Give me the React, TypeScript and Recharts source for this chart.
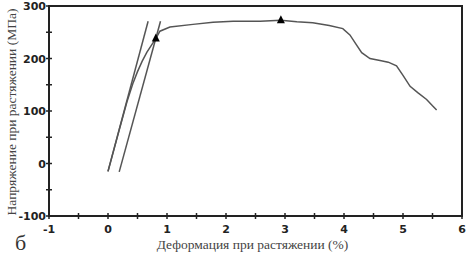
import React from "react";
import { ComposedChart, Line, Scatter, XAxis, YAxis, ReferenceArea } from "recharts";

const curveStrain = [0, 0.2, 0.32, 0.42, 0.5, 0.58, 0.66, 0.74, 0.81, 0.88, 1.05, 1.44, 1.78, 2.12, 2.58, 2.93, 3.2, 3.47, 3.75, 3.98, 4.1, 4.2, 4.3, 4.44, 4.61, 4.75, 4.89, 5.0, 5.12, 5.25, 5.4, 5.5, 5.57];
const curveStress = [-15, 68, 117, 152, 175, 195, 212, 226, 238, 252, 260, 265, 269, 271, 271, 273, 270, 268, 263, 257, 245, 228, 211, 200, 196, 193, 186, 168, 147, 135, 122, 110, 102];
const line1Strain = [0, 0.68];
const line1Stress = [-15, 271];
const line2Strain = [0.19, 0.89];
const line2Stress = [-16, 271];
const markStrain = [0.81, 2.93];
const markStress = [238, 273];
const xTicks = [-1, -0.5, 0, 0.5, 1, 1.5, 2, 2.5, 3, 3.5, 4, 4.5, 5, 5.5, 6];
const yTicks = [-100, -50, 0, 50, 100, 150, 200, 250, 300];
const xDomain = [-1, 6];
const yDomain = [-100, 300];

const toPts = (xs: number[], ys: number[]) => xs.map((x, i) => ({ x, y: ys[i] }));
const curveData = toPts(curveStrain, curveStress);
const line1Data = toPts(line1Strain, line1Stress);
const line2Data = toPts(line2Strain, line2Stress);
const markData = toPts(markStrain, markStress);
const rightFrame = toPts([xDomain[1], xDomain[1]], yDomain);

const tickFont = "DejaVu Sans, Verdana, sans-serif";
const serif = "Liberation Serif, DejaVu Serif, serif";

const XTick = (props: any) => {
  const { x, y, payload } = props;
  const v = payload.value;
  const major = Number.isInteger(v);
  return (
    <g>
      <line x1={x} x2={x} y1={y - 3} y2={y + 3} stroke="#222" strokeWidth={1.5} />
      {major && (
        <text x={x} y={y + 17} textAnchor="middle" fontFamily={tickFont} fontWeight="bold" fontSize={11} fill="#222">
          {v}
        </text>
      )}
    </g>
  );
};

const YTick = (props: any) => {
  const { x, y, payload } = props;
  const v = payload.value;
  const major = v % 100 === 0;
  return (
    <g>
      <line x1={x - 3} x2={x + 3} y1={y} y2={y} stroke="#222" strokeWidth={1.5} />
      {major && (
        <text x={x - 3} y={y + 4} textAnchor="end" fontFamily={tickFont} fontWeight="bold" fontSize={11} fill="#222">
          {v}
        </text>
      )}
    </g>
  );
};

const Tri = (props: any) => {
  const { cx, cy } = props;
  return <polygon points={`${cx},${cy - 5} ${cx - 4},${cy + 3} ${cx + 4},${cy + 3}`} fill="#000" />;
};

export default function App() {
  return (
    <div style={{ position: "absolute", left: 0, top: 0, width: 474, height: 260, background: "#fff" }}>
      <ComposedChart width={474} height={260} margin={{ top: 6, right: 12, bottom: 14, left: 0 }}>
        <XAxis
          xAxisId="b"
          dataKey="x"
          type="number"
          domain={xDomain}
          ticks={xTicks}
          interval={0}
          tick={<XTick />}
          tickLine={false}
          tickSize={0}
          tickMargin={0}
          axisLine={{ stroke: "#222", strokeWidth: 2 }}
          height={30}
          label={{
            value: "Деформация при растяжении (%)",
            position: "insideBottom",
            offset: -3,
            dx: -3,
            style: { fontFamily: serif, fontSize: 13.5, fill: "#444" },
          }}
        />
        <YAxis
          yAxisId="l"
          dataKey="y"
          type="number"
          domain={yDomain}
          ticks={yTicks}
          interval={0}
          tick={<YTick />}
          tickLine={false}
          tickSize={0}
          tickMargin={0}
          axisLine={{ stroke: "#222", strokeWidth: 2 }}
          width={49}
        />
        <ReferenceArea
          xAxisId="b"
          yAxisId="l"
          x1={xDomain[0]}
          x2={xDomain[1]}
          y1={yDomain[0]}
          y2={yDomain[1]}
          fill="none"
          fillOpacity={0}
          stroke="#222"
          strokeWidth={2}
          strokeOpacity={1}
          ifOverflow="visible"
        />
        <Line xAxisId="b" yAxisId="l" data={rightFrame} dataKey="y" type="linear" stroke="#222" strokeWidth={2} dot={false} isAnimationActive={false} />
        <Line xAxisId="b" yAxisId="l" data={line1Data} dataKey="y" type="linear" stroke="#555" strokeWidth={1.5} dot={false} isAnimationActive={false} />
        <Line xAxisId="b" yAxisId="l" data={line2Data} dataKey="y" type="linear" stroke="#555" strokeWidth={1.5} dot={false} isAnimationActive={false} />
        <Line xAxisId="b" yAxisId="l" data={curveData} dataKey="y" type="linear" stroke="#555" strokeWidth={1.5} dot={false} isAnimationActive={false} />
        <Scatter xAxisId="b" yAxisId="l" data={markData} dataKey="y" shape={<Tri />} isAnimationActive={false} />
      </ComposedChart>
      <svg width={24} height={260} style={{ position: "absolute", left: 0, top: 0 }}>
        <text
          x={0}
          y={0}
          transform="translate(16,112) rotate(-90)"
          textAnchor="middle"
          fontFamily={serif}
          fontSize={13.5}
          fill="#444"
        >
          Напряжение при растяжении (МПа)
        </text>
      </svg>
      <div style={{ position: "absolute", left: 15, top: 230, fontFamily: serif, fontSize: 22, color: "#333", lineHeight: "26px" }}>
        б
      </div>
    </div>
  );
}
